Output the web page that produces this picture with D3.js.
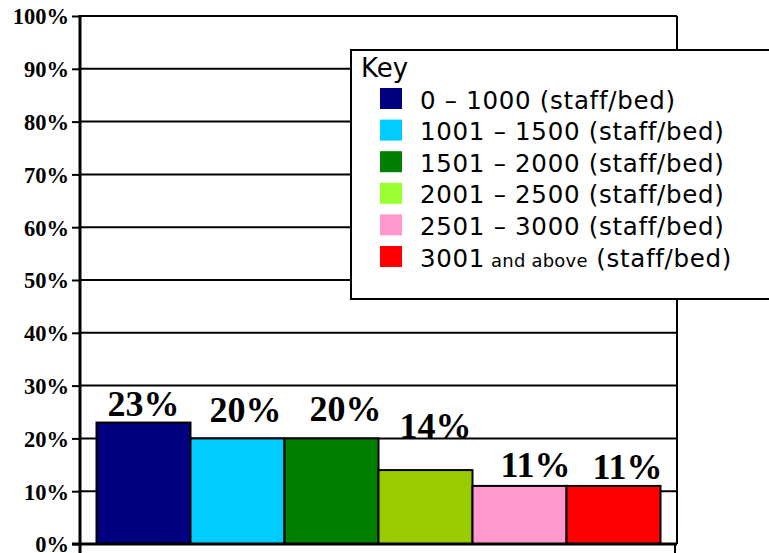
<!DOCTYPE html>
<html>
<head>
<meta charset="utf-8">
<script src="https://cdn.jsdelivr.net/npm/d3@7"></script>
<style>
  html, body { margin: 0; padding: 0; background: #fff; }
  svg { display: block; }
</style>
</head>
<body>
<svg id="chart" width="769" height="553"></svg>
<script>
// ---- data ----
const categories = ["0 - 1000", "1001 - 1500", "1501 - 2000", "2001 - 2500", "2501 - 3000", "3001 and above"];
const values = [23, 20, 20, 14, 11, 11];
const barColors = ["#000080", "#00CCFF", "#008000", "#99CC00", "#FF99CC", "#FF0000"];
const legendColors = ["#000080", "#00CCFF", "#008000", "#99FF33", "#FF99CC", "#FF0000"];
const legendMain = ["0 \u2013 1000", "1001 \u2013 1500", "1501 \u2013 2000", "2001 \u2013 2500", "2501 \u2013 3000", "3001"];
const legendSmall = ["", "", "", "", "", " and above"];
const legendSuffix = " (staff/bed)";
const yTicks = [0, 10, 20, 30, 40, 50, 60, 70, 80, 90, 100];

// ---- layout ----
const svg = d3.select("#chart");
const pL = 80, pR = 677, pT = 16, pB = 544;

const x = d3.scaleBand().domain(categories).range([pL, pR]).paddingInner(0).paddingOuter(0.1755);
const y = d3.scaleLinear().domain([0, 100]).range([pB, pT]);

// gridlines
svg.append("g").selectAll("line").data(yTicks.filter(d => d > 0)).join("line")
  .attr("x1", pL).attr("x2", pR)
  .attr("y1", d => y(d)).attr("y2", d => y(d))
  .attr("stroke", "#000").attr("stroke-width", 2);

// right border
svg.append("line").attr("x1", pR).attr("x2", pR).attr("y1", pT).attr("y2", pB)
  .attr("stroke", "#000").attr("stroke-width", 2);

// bars
svg.append("g").selectAll("rect").data(values).join("rect")
  .attr("x", (d, i) => x(categories[i]))
  .attr("width", x.bandwidth())
  .attr("y", d => y(d))
  .attr("height", d => y(0) - y(d))
  .attr("fill", (d, i) => barColors[i])
  .attr("stroke", "#000").attr("stroke-width", 2);

// value labels (slight nudges as in the original)
const nudgeX = [0, 8, 14, 10, 16, 14];
const gapY = [7, 16, 17, 32, 9, 7];
svg.append("g").selectAll("text").data(values).join("text")
  .attr("x", (d, i) => x(categories[i]) + x.bandwidth() / 2 + nudgeX[i])
  .attr("y", (d, i) => y(d) - gapY[i])
  .attr("text-anchor", "middle")
  .attr("font-family", "Liberation Serif, Times New Roman, serif")
  .attr("font-weight", "bold")
  .attr("font-size", 36)
  .text(d => d + "%");

// y axis
const yAxis = d3.axisLeft(y).tickValues(yTicks).tickFormat(d => d + "%").tickSize(8).tickPadding(3);
const gy = svg.append("g").attr("transform", `translate(${pL},0)`).call(yAxis);
gy.select(".domain").remove();
gy.selectAll(".tick line").attr("stroke", "#000").attr("stroke-width", 2);
gy.selectAll(".tick text")
  .attr("font-family", "Liberation Serif, Times New Roman, serif")
  .attr("font-weight", "bold")
  .attr("font-size", 22.5)
  .attr("fill", "#000")
  .attr("dy", "0.35em");
svg.append("line").attr("x1", pL).attr("x2", pL).attr("y1", pT - 1).attr("y2", 553)
  .attr("stroke", "#000").attr("stroke-width", 3);

// x axis baseline + end ticks
svg.append("line").attr("x1", pL - 8).attr("x2", pR).attr("y1", pB).attr("y2", pB)
  .attr("stroke", "#000").attr("stroke-width", 3);
svg.append("line").attr("x1", pR - 2).attr("x2", pR - 2).attr("y1", pB).attr("y2", 553)
  .attr("stroke", "#000").attr("stroke-width", 2);

// legend
const lg = svg.append("g");
lg.append("rect").attr("x", 351).attr("y", 50).attr("width", 420).attr("height", 249)
  .attr("fill", "#fff").attr("stroke", "#000").attr("stroke-width", 2);
lg.append("text").attr("x", 361).attr("y", 77)
  .attr("font-family", "DejaVu Sans, Verdana, sans-serif").attr("font-size", 26)
  .attr("fill", "#000").text("Key");
const rowH = 31.6;
legendMain.forEach((t, i) => {
  const yy = 88 + i * rowH;
  lg.append("rect").attr("x", 380).attr("y", yy).attr("width", 22).attr("height", 21)
    .attr("fill", legendColors[i]);
  const tx = lg.append("text").attr("x", 420).attr("y", yy + 20.5)
    .attr("font-family", "DejaVu Sans, Verdana, sans-serif").attr("font-size", 24.5)
    .attr("letter-spacing", 0.7)
    .attr("fill", "#000");
  tx.append("tspan").text(t);
  if (legendSmall[i]) tx.append("tspan").attr("font-size", 18).attr("letter-spacing", 0.2).text(legendSmall[i]);
  tx.append("tspan").text(legendSuffix);
});
</script>
</body>
</html>
